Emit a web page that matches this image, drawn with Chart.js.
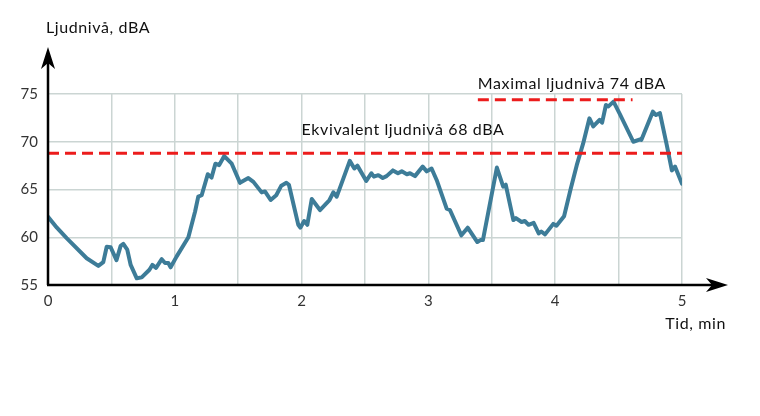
<!DOCTYPE html>
<html>
<head>
<meta charset="utf-8">
<script src="https://cdn.jsdelivr.net/npm/chart.js@4"></script>
<style>
  html, body { margin: 0; padding: 0; background: #fff; }
  #wrap { width: 760px; height: 416px; }
</style>
</head>
<body>
<div id="wrap"><canvas id="myChart" width="760" height="416"></canvas></div>
<script>
// time in minutes and sound level in dBA
const times = [0, 0.07, 0.147, 0.305, 0.397, 0.436, 0.463, 0.494, 0.54, 0.573, 0.594, 0.625, 0.652, 0.70, 0.739,
  0.80, 0.823, 0.852, 0.897, 0.923, 0.949, 0.967, 1.015, 1.107, 1.16, 1.185, 1.212, 1.26, 1.29, 1.32,
  1.35, 1.39, 1.449, 1.514, 1.58, 1.62, 1.685, 1.711, 1.756, 1.80, 1.84, 1.88, 1.90, 1.974, 1.99,
  2.02, 2.045, 2.08, 2.145, 2.22, 2.25, 2.277, 2.38, 2.416, 2.44, 2.51, 2.55, 2.57, 2.605, 2.64,
  2.67, 2.72, 2.76, 2.79, 2.83, 2.855, 2.894, 2.955, 2.987, 3.025, 3.065, 3.144, 3.17, 3.26, 3.31,
  3.386, 3.41, 3.43, 3.54, 3.59, 3.61, 3.67, 3.69, 3.735, 3.76, 3.79, 3.83, 3.87, 3.89, 3.92,
  3.985, 4.01, 4.07, 4.12, 4.17, 4.22, 4.27, 4.30, 4.35, 4.37, 4.40, 4.42, 4.46, 4.51, 4.616,
  4.67, 4.68, 4.77, 4.795, 4.826, 4.88, 4.92, 4.945, 5.0];
const levels = [62.15, 61.0, 59.9, 57.8, 57.0, 57.4, 59.0, 58.95, 57.6, 59.1, 59.3, 58.7, 57.1, 55.7, 55.8,
  56.6, 57.1, 56.8, 57.7, 57.3, 57.3, 56.85, 58.0, 60.0, 62.7, 64.25, 64.4, 66.6, 66.25, 67.7,
  67.55, 68.5, 67.7, 65.7, 66.2, 65.8, 64.7, 64.8, 63.9, 64.4, 65.4, 65.7, 65.5, 61.3, 61.0,
  61.7, 61.3, 64.0, 62.85, 63.9, 64.7, 64.25, 68.0, 67.2, 67.5, 65.9, 66.7, 66.35, 66.5, 66.2,
  66.4, 67.0, 66.7, 66.9, 66.6, 66.7, 66.4, 67.4, 66.9, 67.2, 66.0, 63.0, 62.85, 60.2, 61.0,
  59.5, 59.7, 59.7, 67.3, 65.3, 65.5, 61.8, 62.0, 61.6, 61.7, 61.3, 61.5, 60.4, 60.6, 60.3,
  61.4, 61.2, 62.2, 64.95, 67.55, 69.8, 72.45, 71.6, 72.3, 72.0, 73.85, 73.7, 74.2, 72.9, 70.0,
  70.25, 70.2, 73.15, 72.8, 73.0, 69.65, 67.0, 67.4, 65.6];

// reference lines
const eqLevel = 68.8;
const eqSpan = [0, 5];
const eqLabel = 'Ekvivalent ljudnivå 68 dBA';
const maxLevel = 74.4;
const maxSpan = [3.39, 4.61];
const maxLabel = 'Maximal ljudnivå 74 dBA';

const xTicks = [0, 1, 2, 3, 4, 5];
const yTicks = [55, 60, 65, 70, 75];
const xTitle = 'Tid, min';
const yTitle = 'Ljudnivå, dBA';

const FONT = 'Lato, "Open Sans", sans-serif';

function arrowHead(c, x, y, dir) {
  // dir: 'up' or 'right'
  c.save();
  c.translate(x, y);
  if (dir === 'right') c.rotate(Math.PI / 2);
  c.beginPath();
  c.moveTo(0, 0);
  c.lineTo(7, 22);
  c.lineTo(0, 16);
  c.lineTo(-7, 22);
  c.closePath();
  c.fillStyle = '#000';
  c.fill();
  c.restore();
}

const decorations = {
  id: 'decorations',
  afterDraw(chart) {
    const c = chart.ctx;
    const xs = chart.scales.x, ys = chart.scales.y;
    const left = xs.getPixelForValue(0), bottom = ys.getPixelForValue(55);
    c.save();
    c.strokeStyle = '#000';
    c.lineWidth = 2.5;
    c.beginPath();
    c.moveTo(left, bottom);
    c.lineTo(left, 58);
    c.moveTo(left - 1, bottom);
    c.lineTo(712, bottom);
    c.stroke();
    arrowHead(c, left, 47, 'up');
    arrowHead(c, 728, bottom, 'right');

    c.fillStyle = '#111';
    c.font = '16px ' + FONT;
    c.letterSpacing = '0.6px';
    c.textBaseline = 'middle';
    c.textAlign = 'left';
    c.fillText(yTitle, 46, 28);
    c.textAlign = 'right';
    c.fillText(xTitle, 726, 324);

    c.textAlign = 'left';
    c.fillText(eqLabel, xs.getPixelForValue(2.0), ys.getPixelForValue(eqLevel) - 23);
    c.fillText(maxLabel, xs.getPixelForValue(maxSpan[0]), ys.getPixelForValue(maxLevel) - 16);
    c.restore();
  }
};

const ctx = document.getElementById('myChart');
const myChart = new Chart(ctx, {
  type: 'line',
  data: {
    datasets: [
      {
        label: eqLabel,
        data: eqSpan.map(t => ({ x: t, y: eqLevel })),
        borderColor: '#ec1c1c',
        borderWidth: 3,
        borderDash: [11, 6],
        pointRadius: 0,
        order: 0
      },
      {
        label: maxLabel,
        data: maxSpan.map(t => ({ x: t, y: maxLevel })),
        borderColor: '#ec1c1c',
        borderWidth: 3,
        borderDash: [11, 6],
        pointRadius: 0,
        order: 0
      },
      {
        label: 'Ljudnivå',
        data: times.map((t, i) => ({ x: t, y: levels[i] })),
        borderColor: '#3d7c98',
        borderWidth: 4,
        borderJoinStyle: 'round',
        borderCapStyle: 'round',
        tension: 0,
        pointRadius: 0,
        order: 1
      }
    ]
  },
  options: {
    responsive: false,
    animation: false,
    events: [],
    layout: { padding: { top: 94, right: 78, bottom: 101, left: 0 } },
    plugins: { legend: { display: false }, tooltip: { enabled: false } },
    scales: {
      x: {
        type: 'linear',
        min: 0,
        max: 5,
        afterFit(scale) { scale.height = 30; },
        afterBuildTicks(scale) {
          const t = [];
          for (let v = 0; v <= 5; v += 0.5) t.push({ value: v });
          scale.ticks = t;
        },
        ticks: {
          padding: 7,
          color: '#333',
          font: { family: FONT, size: 15 },
          maxRotation: 0,
          autoSkip: false,
          callback: v => xTicks.includes(v) ? String(v) : ''
        },
        grid: { color: '#cbd5d3', lineWidth: 1.5, drawTicks: false },
        border: { display: false }
      },
      y: {
        min: 55,
        max: 75,
        afterFit(scale) { scale.width = 48; },
        afterBuildTicks(scale) { scale.ticks = yTicks.map(v => ({ value: v })); },
        ticks: {
          padding: 10,
          color: '#333',
          font: { family: FONT, size: 15 }
        },
        grid: { color: '#cbd5d3', lineWidth: 1.5, drawTicks: false },
        border: { display: false }
      }
    }
  },
  plugins: [decorations]
});
</script>
</body>
</html>
